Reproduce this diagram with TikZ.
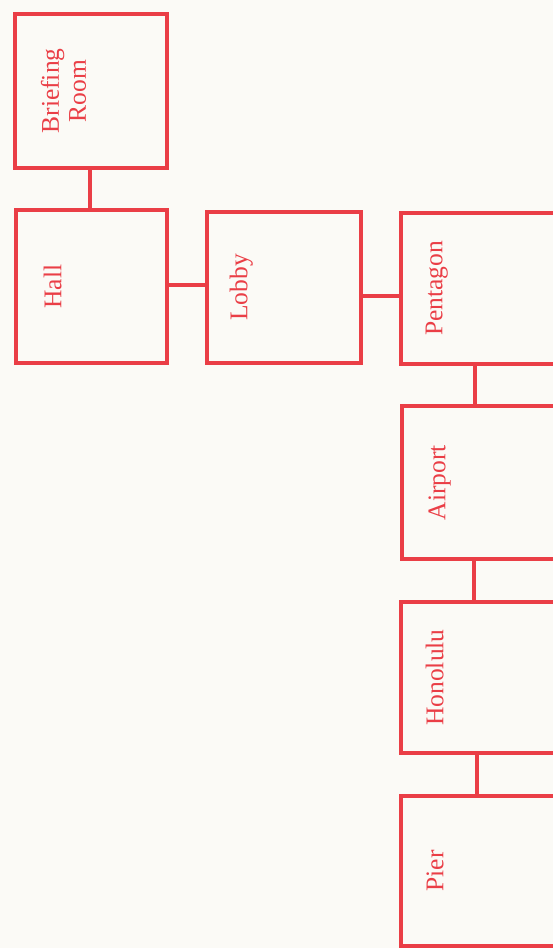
\documentclass[tikz,border=0pt]{standalone}
\usepackage{fontspec}
\setmainfont{Liberation Serif}
\definecolor{planred}{RGB}{234,62,70}
\definecolor{paper}{RGB}{251,250,246}
\tikzset{
  room/.style={draw=planred, line width=3.2pt, inner sep=0pt},
  lbl/.style={text=planred, font=\fontsize{25.5}{27}\selectfont, rotate=90, inner sep=0pt},
  link/.style={draw=planred, line width=3.2pt}
}
\begin{document}
\begin{tikzpicture}[x=1pt,y=1pt]
\fill[paper] (0,0) rectangle (553,948);
\useasboundingbox (0,0) rectangle (553,948);
\clip (0,0) rectangle (553,948);
% rooms
\node[room, minimum width=152pt, minimum height=154pt] (brief) at (91,857) {};
\node[room, minimum width=151pt, minimum height=153pt] (hall) at (91.5,661.5) {};
\node[room, minimum width=154pt, minimum height=151pt] (lobby) at (284,660.5) {};
\node[room, minimum width=156pt, minimum height=151pt] (pent) at (479,659.5) {};
\node[room, minimum width=155pt, minimum height=153pt] (air) at (479.5,465.5) {};
\node[room, minimum width=156pt, minimum height=151pt] (hono) at (479,270.5) {};
\node[room, minimum width=156pt, minimum height=150pt] (pier) at (479,77) {};
% labels
\node[lbl, align=center, anchor=center] (brieft) at ([xshift=50pt]brief.west) {Briefing\\Room};
\node[lbl, anchor=base] (hallt) at ([xshift=47pt]hall.west) {Hall};
\node[lbl, anchor=base] (lobbyt) at ([xshift=42pt]lobby.west) {Lobby};
\node[lbl, anchor=base] (pentt) at ([xshift=43pt]pent.west) {Pentagon};
\node[lbl, anchor=base] (airt) at ([xshift=45pt]air.west) {Airport};
\node[lbl, anchor=base] (honot) at ([xshift=44pt]hono.west) {Honolulu};
\node[lbl, anchor=base] (piert) at ([xshift=44pt]pier.west) {Pier};
% connectors
\draw[link] ([xshift=-1pt]brief.south) -- ([xshift=-1pt]brief.south |- hall.north);
\draw[link] ([yshift=1.5pt]hall.east) -- ([yshift=1.5pt]hall.east -| lobby.west);
\draw[link] ([yshift=-8.5pt]lobby.east) -- ([yshift=-8.5pt]lobby.east -| pent.west);
\draw[link] ([xshift=-4pt]pent.south) -- ([xshift=-4pt]pent.south |- air.north);
\draw[link] ([xshift=-5.5pt]air.south) -- ([xshift=-5.5pt]air.south |- hono.north);
\draw[link] ([xshift=-2pt]hono.south) -- ([xshift=-2pt]hono.south |- pier.north);
\end{tikzpicture}
\end{document}
